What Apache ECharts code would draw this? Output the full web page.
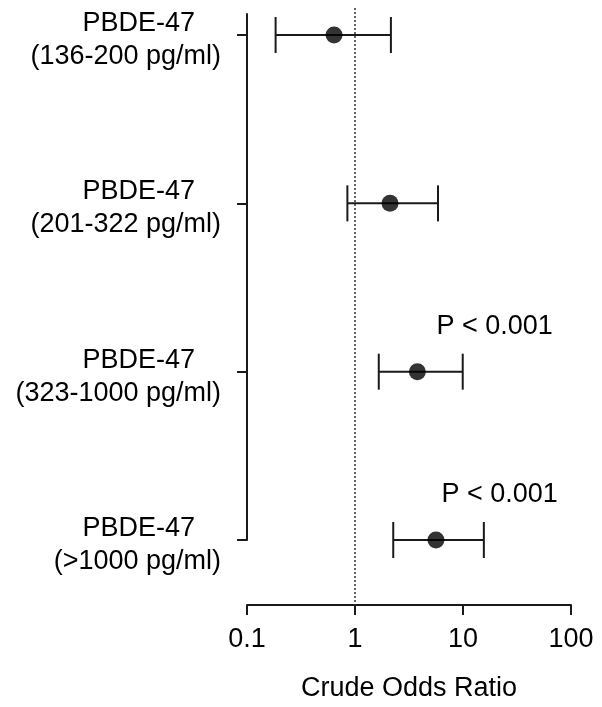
<!DOCTYPE html>
<html>
<head>
<meta charset="utf-8">
<script src="https://cdn.jsdelivr.net/npm/echarts@6/dist/echarts.min.js"></script>
<style>
  html, body { margin: 0; padding: 0; background: #fff; }
  #chart { width: 602px; height: 707px; }
</style>
</head>
<body>
<div id="chart"></div>
<script>
// ---- data ----
const exposureName = 'PBDE-47';
const exposureRanges = ['(136-200 pg/ml)', '(201-322 pg/ml)', '(323-1000 pg/ml)', '(>1000 pg/ml)'];
const oddsRatio = [0.64, 2.11, 3.78, 5.62];
const ciLower = [0.184, 0.85, 1.66, 2.26];
const ciUpper = [2.15, 5.87, 9.94, 15.6];
const pValueText = ['', '', 'P < 0.001', 'P < 0.001'];
const xTickValues = [0.1, 1, 10, 100];
const xAxisTitle = 'Crude Odds Ratio';

// ---- chart ----
const FONT = "'Liberation Sans', Arial, sans-serif";
const INK = '#1a1a1a';
const rows = exposureRanges.map((_, i) => i + 1);

const chart = echarts.init(document.getElementById('chart'), null, { renderer: 'canvas' });

const ciData = rows.map((r, i) => [ciLower[i], ciUpper[i], r]);
const pointData = rows.map((r, i) => [oddsRatio[i], r]);
const pMarks = [];
rows.forEach((r, i) => {
  if (pValueText[i]) {
    pMarks.push({
      coord: [i === 2 ? 19.6 : 21.8, r - 0.27],
      value: pValueText[i]
    });
  }
});

const option = {
  backgroundColor: '#ffffff',
  animation: false,
  textStyle: { fontFamily: FONT },
  grid: [
    { left: 247, right: 31, top: 8, bottom: 102, containLabel: false },
    { left: 247, right: 31, top: 14, bottom: 167, containLabel: false }
  ],
  xAxis: [
    {
      gridIndex: 0,
      type: 'log',
      logBase: 10,
      min: 0.1,
      max: 100,
      axisLine: { show: true, lineStyle: { color: INK, width: 2 } },
      axisTick: { show: true, inside: false, length: 10, lineStyle: { color: INK, width: 2 } },
      axisLabel: {
        color: '#000', fontSize: 27, fontFamily: FONT, margin: 21,
        formatter: v => String(+Number(v).toPrecision(3))
      },
      splitLine: { show: false },
      name: xAxisTitle,
      nameLocation: 'middle',
      nameGap: 70,
      nameTextStyle: { color: '#000', fontSize: 27, fontFamily: FONT }
    },
    {
      gridIndex: 1,
      type: 'log',
      logBase: 10,
      min: 0.1,
      max: 100,
      show: false
    }
  ],
  yAxis: [
    {
      gridIndex: 0,
      type: 'value',
      inverse: true,
      min: 0.8396,
      max: 4.386,
      show: false
    },
    {
      gridIndex: 1,
      type: 'value',
      inverse: true,
      min: 0.875,
      max: 4,
      axisLine: { show: true, lineStyle: { color: INK, width: 2 } },
      axisTick: {
        show: true, inside: false, length: 10,
        customValues: rows,
        lineStyle: { color: INK, width: 2 }
      },
      splitLine: { show: false },
      axisLabel: {
        show: true,
        customValues: rows,
        margin: 26,
        padding: [10, 0, 0, 0],
        formatter: v => {
          const i = Math.round(v) - 1;
          return '{a|' + exposureName + '}\n{b|' + exposureRanges[i] + '}';
        },
        rich: {
          a: { fontSize: 27, fontFamily: FONT, color: '#000', lineHeight: 33, align: 'right', padding: [0, 26, 0, 0] },
          b: { fontSize: 27, fontFamily: FONT, color: '#000', lineHeight: 33, align: 'right' }
        }
      }
    }
  ],
  series: [
    {
      type: 'custom',
      xAxisIndex: 0,
      yAxisIndex: 0,
      z: 2,
      silent: true,
      encode: { x: [0, 1], y: 2 },
      data: ciData,
      renderItem: (params, api) => {
        const y = api.value(2);
        const a = api.coord([api.value(0), y]);
        const b = api.coord([api.value(1), y]);
        const h = 18;
        const style = { stroke: INK, lineWidth: 2, fill: null };
        return {
          type: 'group',
          children: [
            { type: 'line', shape: { x1: a[0], y1: a[1], x2: b[0], y2: b[1] }, style },
            { type: 'line', shape: { x1: a[0], y1: a[1] - h, x2: a[0], y2: a[1] + h }, style },
            { type: 'line', shape: { x1: b[0], y1: b[1] - h, x2: b[0], y2: b[1] + h }, style }
          ]
        };
      }
    },
    {
      type: 'scatter',
      xAxisIndex: 0,
      yAxisIndex: 0,
      z: 3,
      silent: true,
      symbol: 'circle',
      symbolSize: 17,
      itemStyle: { color: '#000' },
      data: pointData,
      markLine: {
        silent: true,
        symbol: ['none', 'none'],
        label: { show: false },
        lineStyle: { color: '#333', width: 1.5, type: [2, 2] },
        data: [{ xAxis: 1 }]
      },
      markPoint: {
        silent: true,
        symbol: 'circle',
        symbolSize: 0,
        label: {
          show: true,
          position: 'inside',
          color: '#000',
          fontSize: 27,
          fontFamily: FONT,
          formatter: p => p.value
        },
        data: pMarks
      }
    }
  ]
};

chart.setOption(option);
</script>
</body>
</html>
